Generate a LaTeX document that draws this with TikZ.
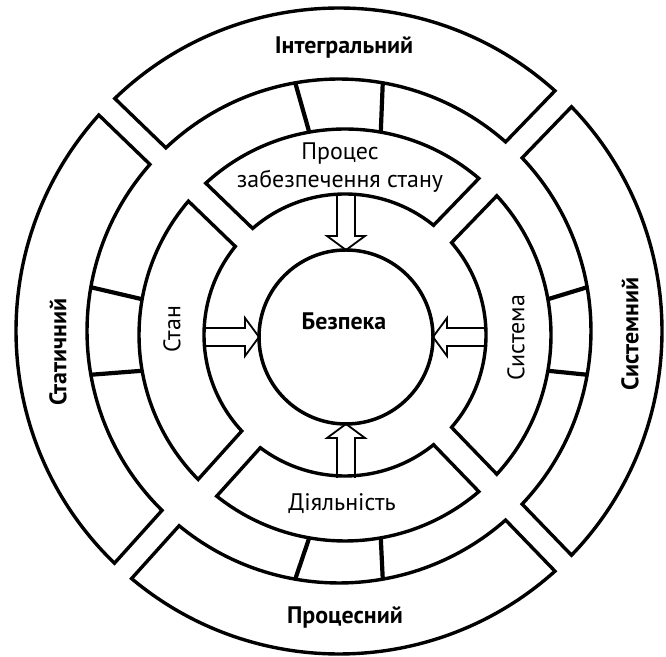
\documentclass[tikz,border=0pt]{standalone}
\usepackage{fontspec}
\setmainfont{PT Sans}
\usetikzlibrary{calc}

% ring radii and half widths of the gaps
\def\rA{141}  % inner ring, inside
\def\rB{206}  % inner ring, outside
\def\rC{252}  % outer ring, inside
\def\rD{323}  % outer ring, outside

% ring segment: centre, from angle, to angle, inner r, outer r, half gap
\newcommand{\ringseg}[6]{%
  \pgfmathsetmacro{\dOut}{asin(#6/#5)}%
  \pgfmathsetmacro{\dIn}{asin(#6/#4)}%
  \draw[segline] ($(#1)+({#2+\dOut}:#5)$)
      arc[start angle={#2+\dOut}, end angle={#3-\dOut}, radius=#5]
      -- ($(#1)+({#3-\dIn}:#4)$)
      arc[start angle={#3-\dIn}, end angle={#2+\dIn}, radius=#4] -- cycle;}

\tikzset{
  segline/.style={line width=3.4bp},
  spoke/.style={line width=4.2bp},
  hollow/.style={line width=1.8bp},
  lbl/.style={font=\fontsize{24}{28}\selectfont, inner sep=0pt, align=center},
  boldlbl/.style={lbl, font=\fontsize{24}{28}\selectfont\bfseries}
}

\begin{document}
\begin{tikzpicture}[x=1bp, y=1bp]
        \useasboundingbox (0,0) rectangle (666,657);

        % Centres of the rings
        \coordinate (oc) at (339,326);
        \coordinate (ic) at (345,322);

        % Outer ring
        \ringseg{oc}{-46}{46}{\rC}{\rD}{11.5}
        \ringseg{oc}{46}{136}{\rC}{\rD}{11.5}
        \ringseg{oc}{136}{228}{\rC}{\rD}{11.5}
        \ringseg{oc}{228}{314}{\rC}{\rD}{11.5}

        % Inner ring
        \ringseg{ic}{-46}{46}{\rA}{\rB}{12.5}
        \ringseg{ic}{46}{136}{\rA}{\rB}{12.5}
        \ringseg{ic}{136}{228}{\rA}{\rB}{12.5}
        \ringseg{ic}{228}{314}{\rA}{\rB}{12.5}

        % Spokes between the rings
        \foreach \a in {10,80,100,170,190,260,280,350}
            \draw[spoke] ($(ic)+(\a:\rB)$) -- ($(oc)+(\a:\rC)$);

        % Core
        \node[circle, draw, line width=3.5bp, minimum size=174bp, inner sep=0pt] (core) at (346,320) {};
        \node[boldlbl] (bezpeka) at (344,336) {Безпека};

        % Hollow arrows into the core
        \foreach \a in {0,90,180,270}
            \draw[hollow, shift={(core.center)}, rotate=\a]
                (\rA,9) -- (101,9) -- (101,19) -- (87,0) -- (101,-19) -- (101,-9) -- (\rA,-9);

        % Labels of the inner ring
        \node[lbl] (proces) at (340,489) {Процес\\забезпечення стану};
        \node[lbl, rotate=90] (stan) at (172,328) {Стан};
        \node[lbl, rotate=90] (systema) at (516,319) {Система};
        \node[lbl] (diyal) at (342,153) {Діяльність};

        % Labels of the outer ring
        \node[boldlbl] (integr) at (344,610) {Інтегральний};
        \node[boldlbl, rotate=90] (statych) at (58,305) {Статичний};
        \node[boldlbl, rotate=90] (systemn) at (630,323) {Системний};
        \node[boldlbl] (procesn) at (345,40) {Процесний};

\end{tikzpicture}
\end{document}
